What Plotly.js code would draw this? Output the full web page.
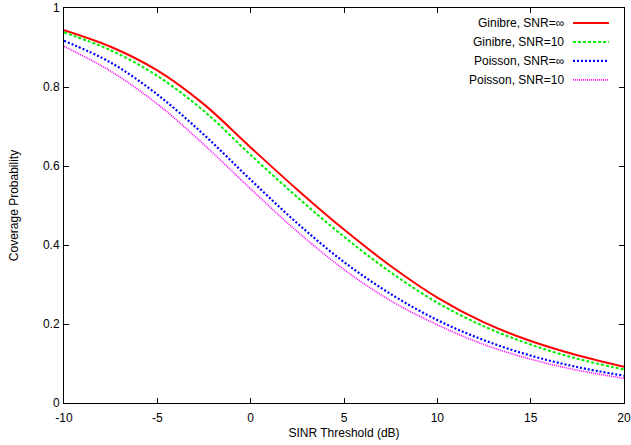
<!DOCTYPE html>
<html>
<head>
<meta charset="utf-8">
<script src="https://cdn.plot.ly/plotly-3.0.1.min.js"></script>
<style>html,body{margin:0;padding:0;background:#fff;}#chart{width:631px;height:445px;}</style>
</head>
<body>
<div id="chart"></div>
<script>
// SINR threshold (dB)
const sinrDb = [-10, -7.5, -5, -2.5, 0, 2.5, 5, 7.5, 10, 12.5, 15, 17.5, 20];
// Coverage probability
const ginibreInf = [0.944, 0.902, 0.842, 0.756, 0.647, 0.540, 0.439, 0.347, 0.267, 0.204, 0.157, 0.121, 0.092];
const ginibre10  = [0.938, 0.893, 0.828, 0.739, 0.628, 0.521, 0.421, 0.331, 0.254, 0.194, 0.148, 0.112, 0.085];
const poissonInf = [0.917, 0.862, 0.781, 0.679, 0.565, 0.455, 0.357, 0.276, 0.210, 0.159, 0.120, 0.091, 0.069];
const poisson10  = [0.903, 0.840, 0.757, 0.654, 0.542, 0.434, 0.338, 0.259, 0.198, 0.148, 0.111, 0.083, 0.0625];
const seriesNames = ["Ginibre, SNR=\u221e", "Ginibre, SNR=10", "Poisson, SNR=\u221e", "Poisson, SNR=10"];
const xTickVals = [-10, -5, 0, 5, 10, 15, 20];
const xTickText = ["-10", "-5", "0", "5", "10", "15", "20"];
const yTickVals = [0, 0.2, 0.4, 0.6, 0.8, 1];
const yTickText = ["0", "0.2", "0.4", "0.6", "0.8", "1"];

const series = [ginibreInf, ginibre10, poissonInf, poisson10];
const colors = ["#ff0000", "#00ee00", "#0000ff", "#ff00ff"];
const dashes = ["solid", "3px,2px", "2px,2px", "1px,1px"];
const widths = [2, 2, 2.2, 1.6];

const font = {family: "Liberation Sans, Arial, sans-serif", size: 12, color: "#000"};

const traces = series.map((ys, i) => ({
  x: sinrDb, y: ys, type: "scatter", mode: "lines", name: seriesNames[i],
  line: {color: colors[i], width: widths[i], dash: dashes[i], shape: "spline", smoothing: 1},
  showlegend: false, hoverinfo: "skip"
}));

// gnuplot-style key: right-aligned text, sample line on the right
const keyY = [0.962, 0.914, 0.866, 0.818];
const annotations = seriesNames.map((n, i) => ({
  xref: "paper", yref: "paper", x: 0.8964, y: keyY[i], xanchor: "right", yanchor: "middle",
  text: n, showarrow: false, font: font
}));
const shapes = seriesNames.map((n, i) => ({
  type: "line", xref: "paper", yref: "paper", x0: 0.909, x1: 0.973, y0: keyY[i], y1: keyY[i],
  line: {color: colors[i], width: widths[i], dash: dashes[i]}
}));

const axisCommon = {
  showgrid: false, zeroline: false, showline: true, linecolor: "#000", linewidth: 1,
  mirror: "allticks", ticks: "inside", ticklen: 5, tickcolor: "#000", tickwidth: 1,
  tickfont: font, tickmode: "array"
};

const layout = {
  width: 631, height: 445,
  margin: {l: 64, r: 7, t: 8, b: 42},
  paper_bgcolor: "#fff", plot_bgcolor: "#fff",
  font: font,
  xaxis: Object.assign({}, axisCommon, {
    range: [-10, 20], tickvals: xTickVals, ticktext: xTickText, ticklabelstandoff: 4,
    title: {text: "SINR Threshold (dB)", font: font, standoff: 4}
  }),
  yaxis: Object.assign({}, axisCommon, {
    range: [0, 1], tickvals: yTickVals, ticktext: yTickText, ticklabelstandoff: 1,
    title: {text: "Coverage Probability", font: font, standoff: 21}
  }),
  annotations: annotations,
  shapes: shapes,
  showlegend: false
};

Plotly.newPlot("chart", traces, layout, {displayModeBar: false, staticPlot: true});
</script>
</body>
</html>
